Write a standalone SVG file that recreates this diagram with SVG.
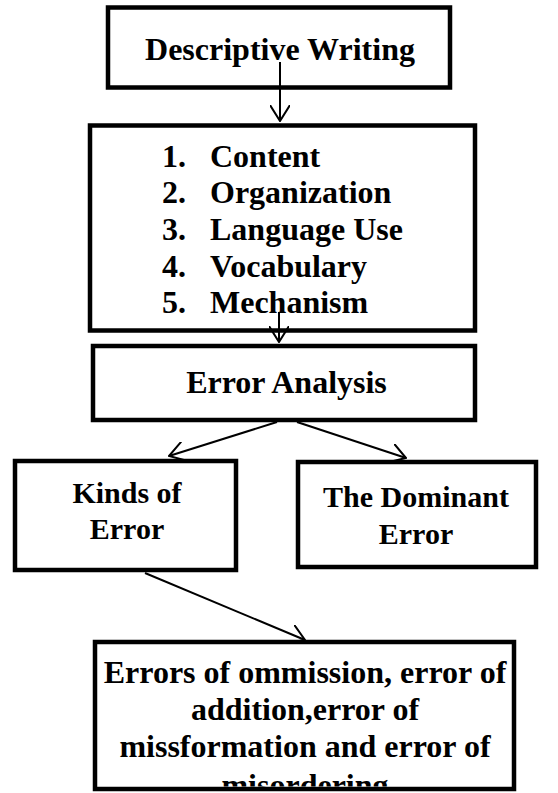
<svg xmlns="http://www.w3.org/2000/svg" width="558" height="793" viewBox="0 0 558 793">
<style>
.box{fill:#fff;stroke:#000;stroke-width:4.5}
.t{font-family:"Liberation Serif","Times New Roman",serif;font-weight:bold;font-size:32px;fill:#000}
.m{text-anchor:middle}
.s{font-size:30px}
.c{fill:none;stroke:#000;stroke-width:2}
</style>
<defs>
<marker id="ah" viewBox="0 0 17 20" refX="16" refY="10" markerWidth="17" markerHeight="20" markerUnits="userSpaceOnUse" orient="auto">
<path d="M0,0 L16,10 L0,20" fill="none" stroke="#000" stroke-width="2"/>
</marker>
<clipPath id="clipB"><rect x="97" y="644.5" width="416" height="142"/></clipPath>
</defs>
<rect width="558" height="793" fill="#fff"/>
<g id="n-descriptive">
<rect class="box" x="108" y="7.5" width="342" height="80"/>
<text class="t m" x="280" y="60">Descriptive Writing</text>
</g>
<g id="n-aspects">
<rect class="box" x="90" y="125.5" width="385" height="205"/>
<text class="t" x="162" y="167">1.</text><text class="t" x="210" y="167">Content</text>
<text class="t" x="162" y="203">2.</text><text class="t" x="210" y="203">Organization</text>
<text class="t" x="162" y="240">3.</text><text class="t" x="210" y="240">Language Use</text>
<text class="t" x="162" y="277">4.</text><text class="t" x="210" y="277">Vocabulary</text>
<text class="t" x="162" y="313">5.</text><text class="t" x="210" y="313">Mechanism</text>
</g>
<g id="n-error-analysis">
<rect class="box" x="93" y="346" width="382" height="74"/>
<text class="t m" x="286.5" y="393">Error Analysis</text>
</g>
<g id="n-kinds">
<rect class="box" x="15" y="461" width="221" height="109"/>
<text class="t s m" x="127" y="503">Kinds of</text>
<text class="t s m" x="127" y="539">Error</text>
</g>
<g id="n-dominant">
<rect class="box" x="298" y="462" width="238" height="105"/>
<text class="t s m" x="416" y="507">The Dominant</text>
<text class="t s m" x="416" y="544">Error</text>
</g>
<g id="n-errors">
<rect class="box" x="95" y="642" width="419" height="147"/>
<g clip-path="url(#clipB)">
<text class="t m" x="305" y="683">Errors of ommission, error of</text>
<text class="t m" x="305" y="720">addition,error of</text>
<text class="t m" x="305" y="757">missformation and error of</text>
<text class="t m" x="305" y="796">misordering</text>
</g>
</g>
<g id="connectors">
<line class="c" x1="280" y1="62" x2="280" y2="121" marker-end="url(#ah)"/>
<line class="c" x1="279" y1="312" x2="279" y2="342" marker-end="url(#ah)"/>
<line class="c" x1="277" y1="422" x2="169" y2="456" marker-end="url(#ah)"/>
<line class="c" x1="297" y1="422" x2="406" y2="458" marker-end="url(#ah)"/>
<line class="c" x1="145" y1="573" x2="305" y2="640" marker-end="url(#ah)"/>
</g>
</svg>
